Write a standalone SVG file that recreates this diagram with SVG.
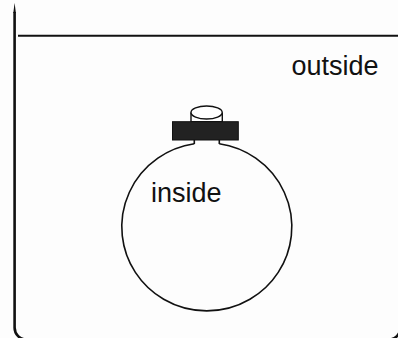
<svg xmlns="http://www.w3.org/2000/svg" width="398" height="338" viewBox="0 0 398 338">
<style>
.ln{fill:none;stroke:#111;stroke-linecap:butt}
.lbl{font-family:"Liberation Sans",Arial,sans-serif;font-size:27px;fill:#111}
</style>
<rect x="0" y="0" width="398" height="338" fill="#fdfdfd"/>
<g id="frame">
<path class="ln" d="M14.6,12 V327.5 A12,12 0 0 0 26.6,339.6 H388.5 A12,12 0 0 0 400.5,327.5" stroke-width="2.6"/>
<path d="M13.3,13 L14.6,3 L15.9,13 Z" fill="#111"/>
<line class="ln" x1="18" y1="35.8" x2="398" y2="35.8" stroke-width="2" stroke="#222"/>
</g>
<g id="outside">
<text class="lbl" x="291.5" y="75">outside</text>
</g>
<g id="bottle">
<path class="ln" d="M194.3,143.8 A85,84 0 1 0 219.3,143.8" stroke-width="1.6"/>
<path class="ln" d="M194.3,139.5 V144 M219.3,139.5 V144" stroke-width="1.6"/>
<path d="M191,112.5 V121.7 H222.3 V112.5" fill="#fff" stroke="#111" stroke-width="1.4"/>
<ellipse cx="206.6" cy="112.5" rx="15.6" ry="6.5" fill="#fff" stroke="#111" stroke-width="1.4"/>
<rect x="172.5" y="121.7" width="65.8" height="18.3" fill="#222" stroke="#111" stroke-width="1"/>
</g>
<g id="inside">
<text class="lbl" x="151" y="202">inside</text>
</g>
</svg>
